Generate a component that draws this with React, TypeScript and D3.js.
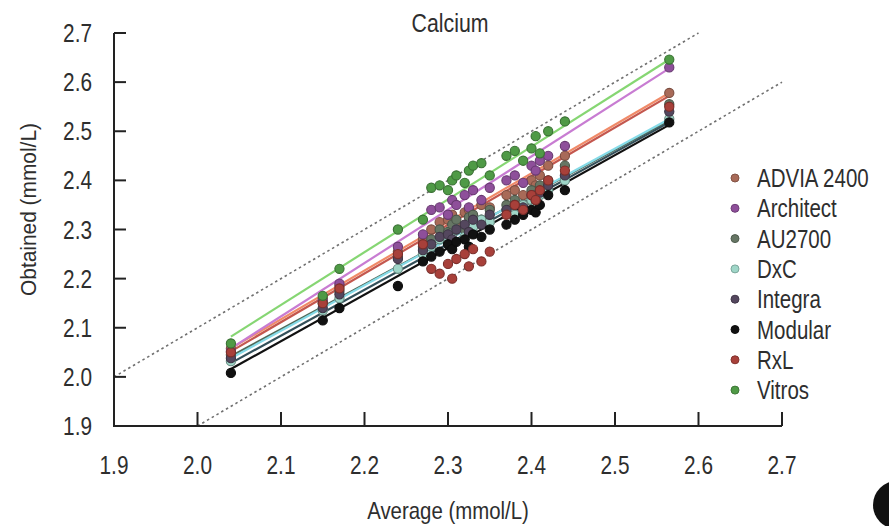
import React from "react";
import * as d3 from "d3";

const seriesNames = ["ADVIA 2400", "Architect", "AU2700", "DxC", "Integra", "Modular", "RxL", "Vitros"];
const dotColors = ["#a86a58", "#8e4f9a", "#667664", "#9fd6c8", "#54475e", "#111111", "#a8403a", "#4f9a46"];
const lineColors = ["#f08a68", "#c87cd2", "#4f6a58", "#86dbe8", "#34505a", "#111111", "#c4574e", "#86d673"];

const samples = [2.04, 2.15, 2.17, 2.24, 2.27, 2.28, 2.29, 2.30, 2.305, 2.31, 2.32, 2.325, 2.33, 2.34, 2.35, 2.37, 2.38, 2.39, 2.40, 2.405, 2.41, 2.42, 2.44, 2.565];

const advia = [2.058, 2.16, 2.185, 2.255, 2.28, 2.30, 2.315, 2.32, 2.33, 2.31, 2.335, 2.34, 2.325, 2.35, 2.345, 2.37, 2.38, 2.37, 2.40, 2.39, 2.41, 2.43, 2.45, 2.578];
const architect = [2.052, 2.155, 2.19, 2.265, 2.29, 2.34, 2.345, 2.33, 2.36, 2.35, 2.37, 2.345, 2.38, 2.36, 2.385, 2.40, 2.41, 2.395, 2.43, 2.42, 2.44, 2.45, 2.47, 2.63];
const au2700 = [2.045, 2.15, 2.175, 2.245, 2.265, 2.28, 2.30, 2.295, 2.31, 2.32, 2.30, 2.325, 2.33, 2.32, 2.34, 2.35, 2.36, 2.35, 2.38, 2.37, 2.39, 2.40, 2.43, 2.555];
const dxc = [2.032, 2.135, 2.16, 2.22, 2.25, 2.265, 2.28, 2.275, 2.29, 2.30, 2.285, 2.31, 2.305, 2.32, 2.315, 2.34, 2.33, 2.35, 2.36, 2.35, 2.37, 2.38, 2.40, 2.525];
const integra = [2.038, 2.14, 2.168, 2.24, 2.258, 2.27, 2.285, 2.29, 2.28, 2.30, 2.31, 2.295, 2.32, 2.31, 2.33, 2.34, 2.35, 2.345, 2.37, 2.36, 2.375, 2.39, 2.41, 2.54];
const modular = [2.008, 2.115, 2.14, 2.185, 2.235, 2.245, 2.255, 2.27, 2.26, 2.275, 2.28, 2.265, 2.29, 2.285, 2.30, 2.31, 2.32, 2.33, 2.34, 2.335, 2.35, 2.37, 2.38, 2.518];
const rxl = [2.05, 2.15, 2.18, 2.25, 2.27, 2.22, 2.21, 2.23, 2.20, 2.24, 2.25, 2.225, 2.26, 2.235, 2.255, 2.33, 2.35, 2.34, 2.37, 2.36, 2.38, 2.40, 2.42, 2.55];
const vitros = [2.068, 2.165, 2.22, 2.30, 2.32, 2.385, 2.39, 2.38, 2.40, 2.41, 2.395, 2.42, 2.43, 2.435, 2.41, 2.45, 2.46, 2.44, 2.465, 2.49, 2.455, 2.50, 2.52, 2.646];

const seriesValues = [advia, architect, au2700, dxc, integra, modular, rxl, vitros];

// fitted regression line values at the lowest and highest average
const fitX = [2.04, 2.565];
const fitStart = [2.058, 2.058, 2.042, 2.038, 2.028, 2.016, 2.052, 2.082];
const fitEnd = [2.578, 2.628, 2.522, 2.525, 2.518, 2.513, 2.572, 2.646];

const ticks = [1.9, 2.0, 2.1, 2.2, 2.3, 2.4, 2.5, 2.6, 2.7];
const limitOffset = 0.1;

const FONT = "'Liberation Sans', Arial, sans-serif";
const TEXT_COLOR = "#2e2e2e";

function CText(props: { x: number; y: number; size: number; sx: number; anchor?: string; rotate?: number; children: React.ReactNode }) {
  const { x, y, size, sx, anchor = "start", rotate = 0, children } = props;
  return (
    <text transform={`translate(${x},${y}) rotate(${rotate}) scale(${sx},1)`} textAnchor={anchor}
      fontSize={size} fill={TEXT_COLOR} fontFamily={FONT}>{children}</text>
  );
}

export default function App() {
  const W = 889, H = 526;
  const x = d3.scaleLinear().domain([1.9, 2.7]).range([114, 782]);
  const y = d3.scaleLinear().domain([1.9, 2.7]).range([426, 33]);
  const line = d3.line<[number, number]>().x(d => x(d[0])).y(d => y(d[1]));

  const upper: [number, number][] = [[1.9, 1.9 + limitOffset], [2.7 - limitOffset, 2.7]];
  const lower: [number, number][] = [[1.9 + limitOffset, 1.9], [2.7, 2.7 - limitOffset]];

  return (
    <svg width={W} height={H} style={{ position: "absolute", left: 0, top: 0, background: "#fff" }}>
      <rect width={W} height={H} fill="#fff" />
      {/* identity +/- limits */}
      <path d={line(upper) || ""} stroke="#707070" strokeWidth={1.6} strokeDasharray="2.5,3" fill="none" />
      <path d={line(lower) || ""} stroke="#707070" strokeWidth={1.6} strokeDasharray="2.5,3" fill="none" />
      {/* regression lines */}
      {seriesNames.map((n, i) => (
        <path key={"l" + n} d={line([[fitX[0], fitStart[i]], [fitX[1], fitEnd[i]]]) || ""} stroke={lineColors[i]} strokeWidth={2.2} fill="none" />
      ))}
      {/* points */}
      {seriesNames.map((n, i) => (
        <g key={"p" + n}>
          {seriesValues[i].map((v, j) => (
            <circle key={j} cx={x(samples[j])} cy={y(v)} r={4.6} fill={dotColors[i]}
              stroke={d3.color(dotColors[i])!.darker(i === 3 ? 1.2 : 0.9).toString()} strokeWidth={1.1} />
          ))}
        </g>
      ))}
      {/* axes */}
      <g stroke="#222" strokeWidth={2} fill="none">
        <line x1={x(1.9)} x2={x(1.9)} y1={y(2.7)} y2={y(1.9) + 1} />
        <line x1={x(1.9)} x2={x(2.7)} y1={y(1.9)} y2={y(1.9)} />
        {ticks.map(t => (
          <line key={"yt" + t} x1={x(1.9)} x2={x(1.9) + 12} y1={y(t)} y2={y(t)} />
        ))}
        {ticks.map(t => (
          <line key={"xt" + t} x1={x(t)} x2={x(t)} y1={y(1.9)} y2={y(1.9) - 14} />
        ))}
      </g>
      {ticks.map(t => (
        <CText key={"yl" + t} x={92} y={y(t) + 9} size={26} sx={0.8} anchor="end">{t.toFixed(1)}</CText>
      ))}
      {ticks.map(t => (
        <CText key={"xl" + t} x={x(t)} y={474} size={26} sx={0.8} anchor="middle">{t.toFixed(1)}</CText>
      ))}
      <CText x={450} y={32} size={26} sx={0.82} anchor="middle">Calcium</CText>
      <CText x={448} y={519} size={24} sx={0.85} anchor="middle">Average (mmol/L)</CText>
      <CText x={36} y={(y(1.9) + y(2.7)) / 2 - 20} size={22} sx={0.95} anchor="middle" rotate={-90}>Obtained (mmol/L)</CText>
      {/* legend */}
      {seriesNames.map((n, i) => (
        <g key={"lg" + n} transform={`translate(735,${178 + i * 30.3})`}>
          <circle r={4} fill={dotColors[i]} stroke={d3.color(dotColors[i])!.darker(0.7).toString()} strokeWidth={1} />
          <CText x={22} y={9} size={25} sx={0.82}>{n}</CText>
        </g>
      ))}
      {/* cropped badge at bottom right */}
      <circle cx={897} cy={505} r={24} fill="#111" />
    </svg>
  );
}
